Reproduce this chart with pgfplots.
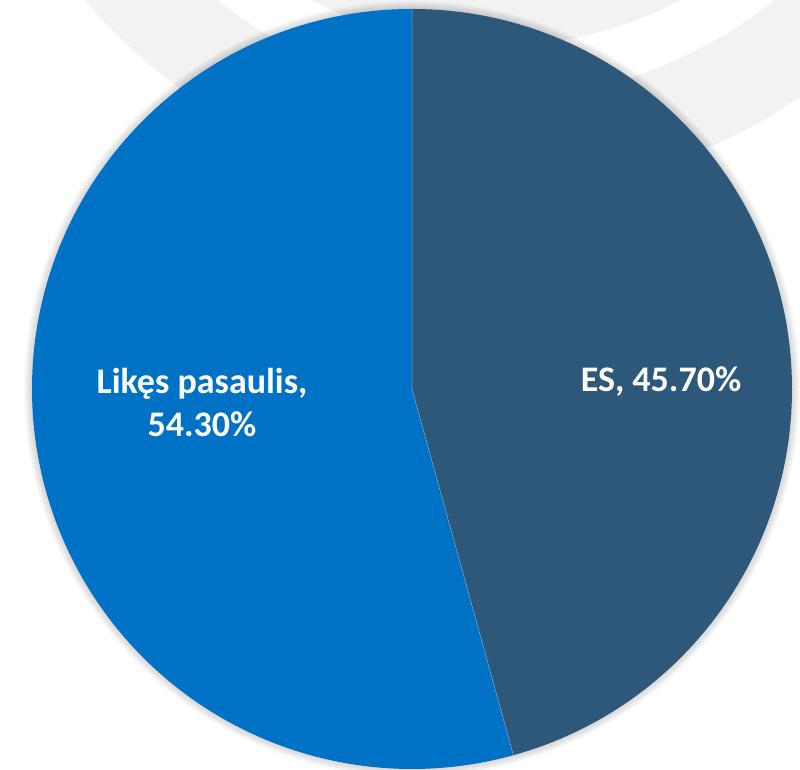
\documentclass[border=0pt]{standalone}
\usepackage{fontspec}
\setmainfont{Carlito}
\usepackage{pgfplots}
\usepackage{pgfplotstable}
\pgfplotsset{compat=1.18}

\definecolor{esblue}{RGB}{45,88,122}
\definecolor{restblue}{RGB}{0,114,198}
\definecolor{bggray}{RGB}{242,242,242}

% shares in percent: ES, rest of the world
\pgfplotstableread{
share
45.70
54.30
}\sharetable
\pgfplotstablegetelem{0}{share}\of\sharetable
\let\shareES\pgfplotsretval
\pgfplotstablegetelem{1}{share}\of\sharetable
\let\shareRest\pgfplotsretval
\pgfmathsetmacro\angES{90-3.6*\shareES}
\pgfmathsetmacro\angRest{90+3.6*\shareRest}

\newcommand\lblfont{\bfseries\fontsize{36}{43}\selectfont}
\newcommand\pct[1]{\pgfmathprintnumber[fixed, fixed zerofill, precision=2,
    assume math mode=true]{#1}\%}

\begin{document}
\begin{tikzpicture}
\path[use as bounding box] (0,0) rectangle (800pt,770pt);
\clip (0,0) rectangle (800pt,770pt);
\begin{axis}[
    x=1pt, y=1pt,
    xmin=0, xmax=800, ymin=0, ymax=770,
    hide axis, clip=false]
% watermark rings in the background
\fill[bggray, even odd rule] (axis cs:496,1117) circle[radius=538pt]
    (axis cs:496,1117) circle[radius=445pt];
\fill[bggray] (axis cs:496,1117) circle[radius=393pt];
% soft shadow round the pie
\pgfplotsinvokeforeach{381,...,388}{
  \fill[black, opacity=0.018] (axis cs:412,381) circle[radius=#1pt];
}
% slices
\fill[esblue] (axis cs:412,381) -- (axis cs:412,761)
    arc[start angle=90, end angle=\angES, radius=380pt] -- cycle;
\fill[restblue] (axis cs:412,381) -- (axis cs:412,761)
    arc[start angle=90, end angle=\angRest, radius=380pt] -- cycle;
\draw[white, opacity=0.3, line width=0.6pt] (axis cs:412,761)
    -- (axis cs:412,381) -- ++(\angES:380pt);
% labels
\node[white, font=\lblfont] at (axis cs:661,388) {ES, \pct{\shareES}};
\node[white, font=\lblfont, align=center] at (axis cs:202,367)
    {Likęs pasaulis,\\\pct{\shareRest}};
\end{axis}
\end{tikzpicture}
\end{document}
